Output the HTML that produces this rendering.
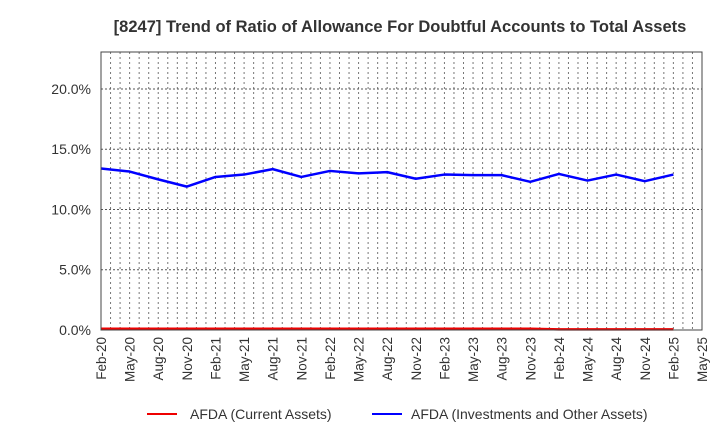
<!DOCTYPE html>
<html><head><meta charset="utf-8"><style>
body{margin:0;background:#fff;font-family:"Liberation Sans",sans-serif}
</style></head><body>
<svg width="720" height="440" viewBox="0 0 720 440" xmlns="http://www.w3.org/2000/svg">
<text x="400" y="32" text-anchor="middle" font-size="16.5" font-weight="bold" fill="#333">[8247]  Trend of Ratio of Allowance For Doubtful Accounts to Total Assets</text>
<g id="grid"></g>
<g id="yax"></g>
<g id="xax"></g>
<g id="series"></g>
<rect x="101" y="52" width="601" height="278" fill="none" stroke="#444" stroke-width="1"/>
<g>
<g><line x1="147" y1="414" x2="177" y2="414" stroke="#e00" stroke-width="2"/><text x="190" y="419" font-size="14" fill="#333">AFDA (Current Assets)</text></g>
<g><line x1="372" y1="414" x2="402" y2="414" stroke="#00f" stroke-width="2"/><text x="411" y="419" font-size="14" fill="#333">AFDA (Investments and Other Assets)</text></g>
</g>
</svg>
<script>
const categories=["Feb-20","May-20","Aug-20","Nov-20","Feb-21","May-21","Aug-21","Nov-21","Feb-22","May-22","Aug-22","Nov-22","Feb-23","May-23","Aug-23","Nov-23","Feb-24","May-24","Aug-24","Nov-24","Feb-25","May-25"];
const investValues=[13.4,13.15,12.5,11.9,12.7,12.9,13.35,12.7,13.2,13.0,13.1,12.55,12.9,12.85,12.85,12.3,12.95,12.4,12.9,12.35,12.9];
const currentValues=[0.1,0.1,0.1,0.1,0.1,0.1,0.1,0.1,0.1,0.1,0.1,0.1,0.1,0.1,0.1,0.1,0.05,0.05,0.05,0.05,0.05];
const yTicks=[0,5,10,15,20];
const yTickLabels=["0.0%","5.0%","10.0%","15.0%","20.0%"];
const NS="http://www.w3.org/2000/svg";
const X0=101,X1=702,Y0=330,Y1=52,YMAX=23.07;
const n=categories.length-1;
function x(i){return X0+(X1-X0)*i/n;}
function y(v){return Y0-(Y0-Y1)*v/YMAX;}
function mk(tag,a,p){const e=document.createElementNS(NS,tag);for(const k in a)e.setAttribute(k,a[k]);p.appendChild(e);return e;}
const grid=document.getElementById('grid'),yax=document.getElementById('yax'),xax=document.getElementById('xax'),ser=document.getElementById('series');
for(let m=1;m<n*3;m++){const xx=X0+(X1-X0)*m/(n*3);
const l=mk('line',{x1:xx,x2:xx,y1:Y1,y2:Y0,stroke:'#777','stroke-dasharray':'2,3','stroke-width':1},grid);

}
yTicks.forEach((t,i)=>{const yy=y(t);
if(t>0){const g=mk('line',{x1:X0,x2:X1,y1:yy,y2:yy,stroke:'#555','stroke-dasharray':'2,2','stroke-width':1},grid);

}
const tx=mk('text',{x:X0-10,y:yy+5,'text-anchor':'end','font-size':14,fill:'#333'},yax);tx.textContent=yTickLabels[i];

});
categories.forEach((c,i)=>{const xx=x(i);
const tx=mk('text',{x:0,y:0,'text-anchor':'end','font-size':13.5,fill:'#333',transform:`translate(${xx+5},${Y0+7}) rotate(-90)`},xax);tx.textContent=c;

});
function line(vals,color,name){const p=mk('polyline',{points:vals.map((v,i)=>x(i)+','+y(v)).join(' '),fill:'none',stroke:color,'stroke-width':2.5,'stroke-linejoin':'round'},ser);

}
line(currentValues,'#e00','line-current-assets');
line(investValues,'#00f','line-investments');
</script>
</body></html>
